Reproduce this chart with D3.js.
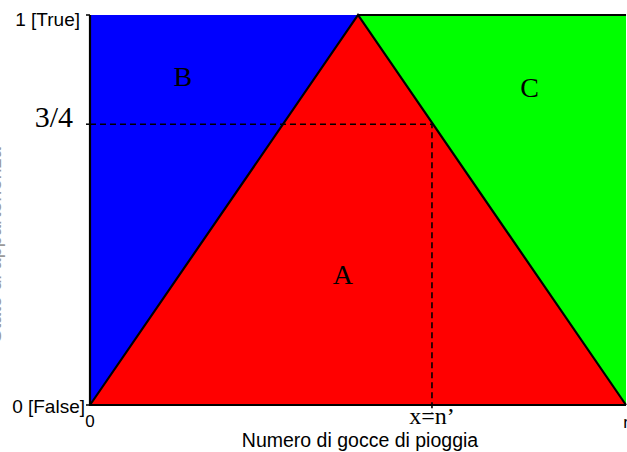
<!DOCTYPE html>
<html>
<head>
<meta charset="utf-8">
<script src="https://cdn.jsdelivr.net/npm/d3@7"></script>
<style>
  html, body { margin: 0; padding: 0; background: #fff; }
  svg { display: block; }
</style>
</head>
<body>
<svg id="chart" width="627" height="452"></svg>
<script>
// ---- data ----
const xDomain = [0, 1];            // 0 .. n
const yDomain = [0, 1];            // False .. True
const regionB = [[0, 0], [0, 1], [0.5, 1]];
const regionA = [[0, 0], [0.5, 1], [1, 0]];
const regionC = [[0.5, 1], [1, 1], [1, 0]];
const regionColors = ["#0000ff", "#ff0000", "#00ff00"];
const regionLabels = [
  { name: "B", x: 0.173, y: 0.818 },
  { name: "A", x: 0.472, y: 0.31 },
  { name: "C", x: 0.82, y: 0.79 }
];
const markY = 0.72;                 // "3/4"
const markX = 0.638;                // "x=n'"
const yTickValues = [0, markY, 1];
const yTickLabels = ["0 [False]", "3/4", "1 [True]"];
const xTickValues = [0, markX, 1];
const xTickLabels = ["0", "x=n\u2019", "n"];
const xTitle = "Numero di gocce di pioggia";
const yTitle = "Stato di appartenenza";

// ---- layout ----
const svg = d3.select("#chart");
const x = d3.scaleLinear().domain(xDomain).range([90, 626]);
const y = d3.scaleLinear().domain(yDomain).range([405, 15]);
const serif = "Liberation Serif, Times New Roman, serif";
const sans = "Liberation Sans, Arial, sans-serif";

const line = d3.line().x(d => x(d[0])).y(d => y(d[1]));
const regions = [regionB, regionA, regionC];
svg.selectAll("path.region").data(regions).enter().append("path")
  .attr("class", "region")
  .attr("d", d => line(d) + "Z")
  .attr("fill", (d, i) => regionColors[i]);

// triangle outline
svg.append("path")
  .attr("d", line(regionA))
  .attr("fill", "none").attr("stroke", "#000").attr("stroke-width", 2.2);

// frame lines: left, bottom, top of C
svg.append("path")
  .attr("d", line([[0, 1], [0, 0], [1, 0]]))
  .attr("fill", "none").attr("stroke", "#000").attr("stroke-width", 2.2);
svg.append("path")
  .attr("d", line([[0.5, 1], [1, 1]]))
  .attr("fill", "none").attr("stroke", "#000").attr("stroke-width", 2);

// dashed guides
svg.append("path")
  .attr("d", line([[0, markY], [markX, markY], [markX, -0.02]]))
  .attr("fill", "none").attr("stroke", "#000").attr("stroke-width", 1.6)
  .attr("stroke-dasharray", "6,4");

// region labels
svg.selectAll("text.rlab").data(regionLabels).enter().append("text")
  .attr("class", "rlab")
  .attr("x", d => x(d.x)).attr("y", d => y(d.y))
  .attr("text-anchor", "middle")
  .attr("font-family", serif)
  .attr("font-size", 28)
  .text(d => d.name);

// y ticks
const yTicks = svg.append("g");
const yTickStyle = [
  { dx: -5, dy: 8, font: sans, size: 19 },
  { dx: -17, dy: 3, font: serif, size: 30 },
  { dx: -10, dy: 11, font: sans, size: 19 }
];
yTickValues.forEach((v, i) => {
  yTicks.append("line")
    .attr("x1", x(0) - 4).attr("x2", x(0))
    .attr("y1", y(v)).attr("y2", y(v))
    .attr("stroke", "#000").attr("stroke-width", 1.5);
  const s = yTickStyle[i];
  yTicks.append("text")
    .attr("x", x(0) + s.dx)
    .attr("y", y(v) + s.dy)
    .attr("text-anchor", "end")
    .attr("font-family", s.font)
    .attr("font-size", s.size)
    .text(yTickLabels[i]);
});

// x ticks
const xTickStyle = [
  { y: 427, font: sans, size: 17 },
  { y: 424, font: serif, size: 24 },
  { y: 428, font: sans, size: 17 }
];
xTickValues.forEach((v, i) => {
  const s = xTickStyle[i];
  svg.append("text")
    .attr("x", x(v) + (i === 2 ? 2 : 0)).attr("y", s.y)
    .attr("text-anchor", "middle")
    .attr("font-family", s.font)
    .attr("font-size", s.size)
    .text(xTickLabels[i]);
});

// axis titles
svg.append("text")
  .attr("x", 360).attr("y", 447)
  .attr("text-anchor", "middle")
  .attr("font-family", sans)
  .attr("font-size", 19.5)
  .text(xTitle);

svg.append("text")
  .attr("transform", "translate(1,245) rotate(-90)")
  .attr("text-anchor", "middle")
  .attr("font-family", sans)
  .attr("font-size", 20)
  .attr("fill", "#999")
  .text(yTitle);
</script>
</body>
</html>
